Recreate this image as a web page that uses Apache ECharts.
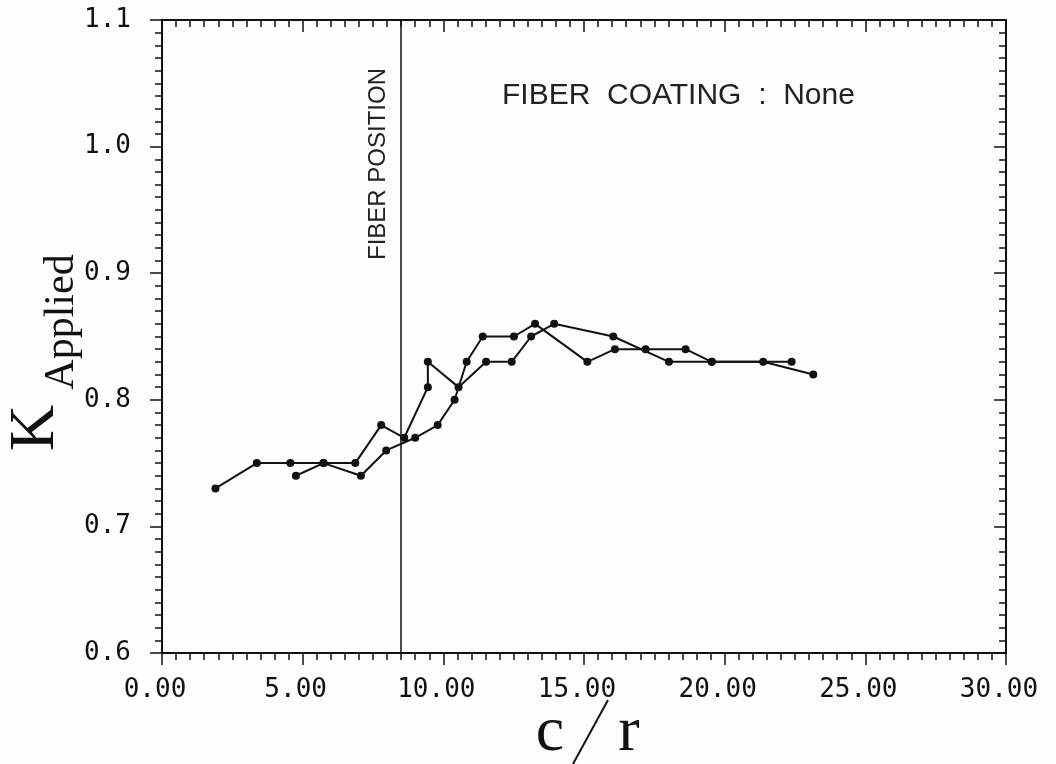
<!DOCTYPE html>
<html>
<head>
<meta charset="utf-8">
<script src="https://cdn.jsdelivr.net/npm/echarts@6/dist/echarts.min.js"></script>
<style>
  html, body { margin: 0; padding: 0; background: #fdfdfb; }
  #chart { width: 1056px; height: 764px; }
</style>
</head>
<body>
<div id="chart"></div>
<script>
(function() {
  // run 1 (starts at c/r = 1.9)
  var runAx = [1.90, 3.37, 4.56, 5.74, 6.87, 7.79, 8.61, 9.45, 9.45, 10.54, 11.52, 12.43, 13.12, 13.94, 16.04, 18.02, 19.54, 21.37, 23.15];
  var runAy = [0.73, 0.75, 0.75, 0.75, 0.75, 0.78, 0.77, 0.81, 0.83, 0.81, 0.83, 0.83, 0.85, 0.86, 0.85, 0.83, 0.83, 0.83, 0.82];
  // run 2 (starts at c/r = 4.8)
  var runBx = [4.76, 5.74, 7.07, 7.97, 9.00, 9.80, 10.40, 10.83, 11.40, 12.51, 13.26, 15.12, 16.10, 17.19, 18.61, 19.54, 22.38];
  var runBy = [0.74, 0.75, 0.74, 0.76, 0.77, 0.78, 0.80, 0.83, 0.85, 0.85, 0.86, 0.83, 0.84, 0.84, 0.84, 0.83, 0.83];
  var fiberPos = 8.47;
  var xRange = [0, 30];
  var yRange = [0.6, 1.1];

  function pairs(xs, ys) {
    return xs.map(function(x, i) { return [x, ys[i]]; });
  }

  var ink = '#111';
  var monoFont = '"DejaVu Sans Mono", "Liberation Mono", monospace';
  var serifFont = '"Liberation Serif", "DejaVu Serif", serif';
  var sansFont = '"Liberation Sans", "DejaVu Sans", sans-serif';

  var lineStyle = { color: ink, width: 2 };

  function xAxisCfg(pos, inside, showLabel) {
    return {
      type: 'value', position: pos, min: xRange[0], max: xRange[1], interval: 5,
      axisLine: { show: true, onZero: false, lineStyle: lineStyle },
      axisTick: { show: true, inside: inside, length: 12, lineStyle: { color: ink, width: 1.5 } },
      minorTick: { show: true, splitNumber: 10, length: 7, lineStyle: { color: ink, width: 1.5 } },
      axisLabel: {
        show: showLabel, margin: 24, color: ink, fontFamily: monoFont, fontSize: 26,
        padding: [0, 14, 0, 0],
        formatter: function(v) { return v.toFixed(2); }
      },
      splitLine: { show: false }
    };
  }

  function yAxisCfg(pos, inside, showLabel) {
    return {
      type: 'value', position: pos, min: yRange[0], max: yRange[1], interval: 0.1,
      axisLine: { show: true, onZero: false, lineStyle: lineStyle },
      axisTick: { show: true, inside: inside, length: 12, lineStyle: { color: ink, width: 1.5 } },
      minorTick: { show: true, splitNumber: 10, length: 7, lineStyle: { color: ink, width: 1.5 } },
      axisLabel: {
        show: showLabel, margin: 31, color: ink, fontFamily: monoFont, fontSize: 26,
        formatter: function(v) { return v.toFixed(1); }
      },
      splitLine: { show: false }
    };
  }

  function run(name, data) {
    return {
      name: name, type: 'line', data: data,
      symbol: 'circle', symbolSize: 8,
      itemStyle: { color: ink },
      lineStyle: { color: ink, width: 2 },
      z: 3
    };
  }

  var chart = echarts.init(document.getElementById('chart'), null, { renderer: 'canvas' });
  var series = [run('A', pairs(runAx, runAy)), run('B', pairs(runBx, runBy))];
  series[0].markLine = {
    silent: true, symbol: 'none',
    label: { show: false },
    lineStyle: { color: ink, width: 1.5, type: 'solid' },
    data: [{ xAxis: fiberPos }]
  };

  chart.setOption({
    animation: false,
    backgroundColor: '#fdfdfb',
    grid: { left: 162, right: 50, top: 20, bottom: 111 },
    xAxis: [xAxisCfg('bottom', false, true), xAxisCfg('top', true, false)],
    yAxis: [yAxisCfg('left', false, true), yAxisCfg('right', true, false)],
    series: series,
    graphic: [
      {
        type: 'text', x: 378, y: 164, rotation: Math.PI / 2,
        style: { text: 'FIBER POSITION', font: '24px ' + sansFont, fill: '#222', align: 'center', verticalAlign: 'middle' }
      },
      {
        type: 'text', x: 502, y: 96,
        style: { text: 'FIBER  COATING  :  None', font: '30px ' + sansFont, fill: '#222', align: 'left', verticalAlign: 'middle' }
      },
      {
        type: 'text', x: 36, y: 428, rotation: Math.PI / 2,
        style: { text: 'K', font: '64px ' + serifFont, fill: ink, align: 'center', verticalAlign: 'middle' }
      },
      {
        type: 'text', x: 62, y: 322, rotation: Math.PI / 2,
        style: { text: 'Applied', font: '42px ' + serifFont, fill: ink, align: 'center', verticalAlign: 'middle' }
      },
      {
        type: 'text', x: 550, y: 733,
        style: { text: 'c', font: '64px ' + serifFont, fill: ink, align: 'center', verticalAlign: 'middle' }
      },
      {
        type: 'text', x: 629, y: 733,
        style: { text: 'r', font: '64px ' + serifFont, fill: ink, align: 'center', verticalAlign: 'middle' }
      },
      {
        type: 'line', shape: { x1: 608, y1: 700, x2: 573, y2: 764 },
        style: { stroke: ink, lineWidth: 2 }
      }
    ]
  });
  window.addEventListener('resize', function() { chart.resize(); });
})();
</script>
</body>
</html>
